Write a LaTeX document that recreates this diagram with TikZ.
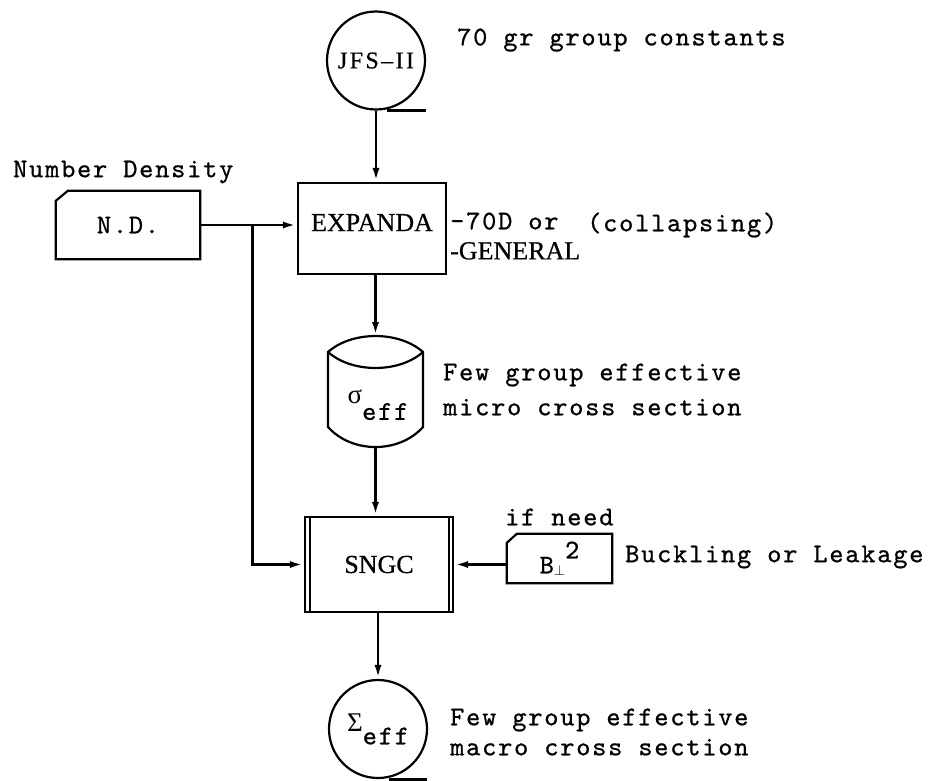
\documentclass[tikz,border=0pt]{standalone}
\usepackage{fontspec}
\usetikzlibrary{arrows.meta,calc}
\newfontfamily\serifA{Liberation Serif}
\newfontfamily\monoA{lmmono10-regular.otf}[LetterSpace=6.7,FakeBold=0.8]
\newcommand\twfont{\fontsize{27}{30}\selectfont\monoA}
\newcommand\expfont{\fontsize{26}{28}\selectfont\serifA\addfontfeature{FakeBold=0.6}}
\newcommand\grk{\fontsize{27}{30}\selectfont\serifA}
\begin{document}
\begin{tikzpicture}[x=1pt,y=-1pt,
  shp/.style={draw, line width=2.2pt},
  ln/.style={line width=2.8pt},
  arr/.style={ln, -{Latex[length=14pt,width=7pt]}},
  tw/.style={font=\twfont, inner sep=0pt, anchor=west, align=left},
  boxtext/.style={inner sep=0pt}]
\fill[white] (0,0) rectangle (936,780);
\useasboundingbox (0,0) rectangle (936,780);

% JFS-II circle
\node[shp, circle, minimum size=98pt, boxtext, font=\fontsize{24}{26}\selectfont\serifA\addfontfeature{LetterSpace=10,FakeBold=0.6}] (jfs) at (376,60.5) {JFS–II};
\draw[ln] ([xshift=11pt]jfs.south) -- ([xshift=50pt]jfs.south);

% EXPANDA
\node[shp, minimum width=148pt, minimum height=91pt, boxtext, text depth=12pt, font=\expfont] (exp) at (372,228.5) {EXPANDA};

% N.D. card
\node[minimum width=144pt, minimum height=68pt, boxtext, font=\twfont] (nd) at (128,225) {N.D.};
\draw[shp] ([yshift=-10pt]nd.north west) -- ([xshift=12pt]nd.north west) -- (nd.north east) -- (nd.south east) -- (nd.south west) -- cycle;

% sigma_eff cylinder
\node[boxtext, font=\twfont] (cyl) at (378,405) {{\grk σ}\raisebox{-16pt}{eff}};
\coordinate (cyltop) at (375.5,336);
\coordinate (cylbot) at (375.5,447);
\draw[shp] (328,352) .. controls (352,330.7) and (399,330.7) .. (423,352) -- (423,427) .. controls (399,453.7) and (352,453.7) .. (328,427) -- cycle;
\draw[shp] (328,352) .. controls (352,373.3) and (399,373.3) .. (423,352);

% SNGC
\node[shp, minimum width=148pt, minimum height=95pt, boxtext, font=\expfont] (sngc) at (379,564.5) {SNGC};
\draw[shp] ([xshift=6pt]sngc.north west) -- ([xshift=6pt]sngc.south west);
\draw[shp] ([xshift=-5pt]sngc.north east) -- ([xshift=-5pt]sngc.south east);

% B card
\node[minimum width=105pt, minimum height=49pt, boxtext, font=\twfont] (bb) at (559.5,558.5) {B\raisebox{-2pt}{$\scriptscriptstyle\perp$}\raisebox{15pt}{2}};
\draw[shp] ([yshift=-9pt]bb.north west) -- ([xshift=10pt]bb.north west) -- (bb.north east) -- (bb.south east) -- (bb.south west) -- cycle;

% Sigma_eff circle
\node[shp, circle, minimum size=98pt, boxtext, font=\twfont] (sig) at (378,729) {{\grk Σ}\raisebox{-13pt}{eff}};
\draw[ln] ([xshift=11pt]sig.south) -- ([xshift=49pt]sig.south);

% connectors
\draw[arr] (jfs.south) -- (jfs.south |- exp.north);
\draw[arr] (exp.south -| cyltop) -- (cyltop);
\draw[arr] (cylbot) -- (cylbot |- sngc.north);
\draw[arr] (sngc.south -| sig.north) -- (sig.north);
\draw[arr] (nd.east) -- (nd.east -| exp.west);
\coordinate (j) at ($(nd.east)+(52,0)$);
\draw[arr] (j) |- (sngc.west);
\draw[arr] (bb.west |- sngc.east) -- (sngc.east);

% labels
\node[tw] (numden) at (13,172) {Number Density};
\node[tw] (jfslab) at (457,40) {70 gr group constants};
\node[tw] (opt) at (450,236) {-70D or\\{\expfont -GENERAL}};
\node[tw] (coll) at (587,225) {(collapsing)};
\node[tw] (micro) at (443,389.5) {Few group effective\\[5pt]micro cross section};
\node[tw] (ifneed) at (505,517) {if need};
\node[tw] (buck) at (625,557) {Buckling or Leakage};
\node[tw] (macro) at (450,732) {Few group effective\\macro cross section};
\end{tikzpicture}
\end{document}
